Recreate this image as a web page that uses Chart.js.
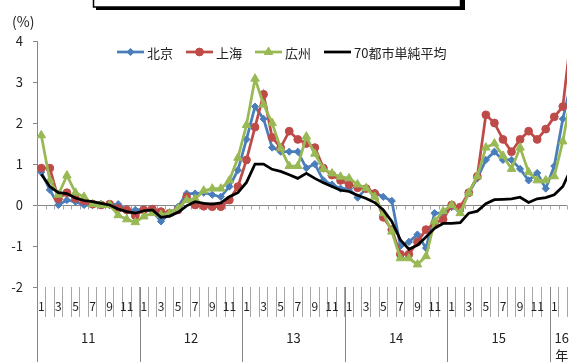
<!DOCTYPE html>
<html>
<head>
<meta charset="utf-8">
<script src="https://cdn.jsdelivr.net/npm/chart.js@4.4.1/dist/chart.umd.min.js"></script>
<style>
  html, body { margin: 0; padding: 0; background: #fff; overflow: hidden; }
  #wrap { width: 573px; height: 362px; }
</style>
</head>
<body>
<div id="wrap"><canvas id="chart" width="573" height="362"></canvas></div>
<script>
// month of each point, Jan 2011 .. Mar 2016 (March 2016 lies just past the right edge)
const months = [
  1, 2, 3, 4, 5, 6, 7, 8, 9, 10, 11, 12,
  1, 2, 3, 4, 5, 6, 7, 8, 9, 10, 11, 12,
  1, 2, 3, 4, 5, 6, 7, 8, 9, 10, 11, 12,
  1, 2, 3, 4, 5, 6, 7, 8, 9, 10, 11, 12,
  1, 2, 3, 4, 5, 6, 7, 8, 9, 10, 11, 12,
  1, 2, 3
];
// year group labels under the months (one entry per year, lines of text)
const yearLabels = [['11'], ['12'], ['13'], ['14'], ['15'], ['16', '年']];
// last month slot that fits in the picture
const lastVisible = 61;

const beijing = [
  0.80, 0.37, 0.00, 0.12, 0.08, 0.00, 0.00, 0.02, 0.00, 0.02, -0.15, -0.12,
  -0.10, -0.15, -0.40, -0.22, -0.04, 0.28, 0.28, 0.30, 0.25, 0.20, 0.45, 0.85,
  1.60, 2.40, 2.10, 1.40, 1.30, 1.30, 1.30, 0.90, 1.00, 0.60, 0.50, 0.40,
  0.40, 0.18, 0.40, 0.30, 0.20, 0.10, -1.00, -0.90, -0.72, -1.05, -0.20, -0.20,
  -0.05, -0.15, 0.30, 0.65, 1.10, 1.30, 1.10, 1.10, 0.88, 0.60, 0.78, 0.40,
  0.95, 2.10, 3.00
];
const shanghai = [
  0.90, 0.90, 0.15, 0.30, 0.16, 0.10, 0.02, 0.00, 0.02, -0.08, -0.12, -0.26,
  -0.12, -0.10, -0.16, -0.20, -0.12, 0.20, 0.00, -0.03, -0.04, -0.04, 0.12, 0.45,
  1.10, 1.90, 2.70, 1.65, 1.40, 1.80, 1.60, 1.50, 1.40, 0.90, 0.73, 0.60,
  0.50, 0.42, 0.40, 0.28, -0.30, -0.60, -1.20, -1.20, -0.90, -0.60, -0.45, -0.35,
  0.00, -0.05, 0.30, 0.70, 2.20, 2.00, 1.60, 1.30, 1.60, 1.80, 1.60, 1.85,
  2.15, 2.40, 4.20
];
const guangzhou = [
  1.70, 0.60, 0.25, 0.72, 0.30, 0.20, 0.02, 0.00, 0.00, -0.25, -0.35, -0.42,
  -0.28, -0.20, -0.24, -0.20, -0.08, 0.12, 0.15, 0.35, 0.40, 0.40, 0.60, 1.15,
  1.95, 3.08, 2.45, 2.00, 1.38, 0.95, 0.95, 1.67, 1.25, 0.88, 0.77, 0.69,
  0.65, 0.50, 0.41, 0.20, -0.20, -0.65, -1.30, -1.30, -1.45, -1.25, -0.40, -0.15,
  0.00, -0.20, 0.30, 0.70, 1.40, 1.50, 1.20, 0.88, 1.40, 0.80, 0.60, 0.60,
  0.70, 1.55, 2.70
];
const avg70 = [
  0.75, 0.45, 0.30, 0.28, 0.17, 0.11, 0.08, 0.04, 0.00, -0.10, -0.16, -0.20,
  -0.14, -0.12, -0.30, -0.27, -0.18, -0.02, 0.08, 0.04, 0.02, 0.05, 0.20, 0.30,
  0.55, 1.00, 1.00, 0.87, 0.82, 0.74, 0.65, 0.77, 0.65, 0.54, 0.45, 0.36,
  0.33, 0.24, 0.16, 0.06, -0.12, -0.40, -0.85, -1.08, -0.98, -0.78, -0.57, -0.45,
  -0.45, -0.43, -0.20, -0.15, 0.03, 0.13, 0.14, 0.15, 0.19, 0.06, 0.15, 0.18,
  0.25, 0.45, 0.90
];

const FONT = '"Noto Sans CJK JP", "Noto Sans", sans-serif';
const AXIS_GRAY = '#868686';

// series as {x: month index, y: value} for the hidden linear axis
const points = arr => arr.map((y, x) => ({ x, y }));

const decor = {
  id: 'decor',
  beforeDraw(chart) {
    // title frame, cut off at the top of the picture
    const ctx = chart.ctx;
    ctx.save();
    ctx.fillStyle = '#000';
    ctx.fillRect(96, -6, 369, 16);
    ctx.fillStyle = '#fff';
    ctx.fillRect(93, -6, 368, 13);
    ctx.strokeStyle = '#000';
    ctx.lineWidth = 1.5;
    ctx.strokeRect(93.5, -6, 367, 13);
    ctx.restore();
  },
  beforeDatasetsDraw(chart) {
    // horizontal axis crossing at 0 with small tick marks
    const { ctx, chartArea } = chart;
    const xs = chart.scales.x, ys = chart.scales.y;
    const y0 = Math.round(ys.getPixelForValue(0)) + 0.5;
    const slot = xs.getPixelForValue(1) - xs.getPixelForValue(0);
    ctx.save();
    ctx.strokeStyle = AXIS_GRAY;
    ctx.lineWidth = 1;
    ctx.beginPath();
    ctx.moveTo(chartArea.left, y0);
    ctx.lineTo(chartArea.right, y0);
    ctx.stroke();
    ctx.strokeStyle = '#a6a6a6';
    ctx.beginPath();
    for (let i = 0; i <= lastVisible + 1; i++) {
      const x = Math.round(xs.getPixelForValue(0) - slot / 2 + i * slot) + 0.5;
      ctx.moveTo(x, y0);
      ctx.lineTo(x, y0 + 4);
    }
    ctx.stroke();
    ctx.restore();
  },
  afterDraw(chart) {
    const { ctx, chartArea } = chart;
    const xs = chart.scales.x;
    const slot = xs.getPixelForValue(1) - xs.getPixelForValue(0);
    const edge = i => xs.getPixelForValue(0) - slot / 2 + i * slot;

    // year groups: separators and labels
    const starts = [];
    months.forEach((m, i) => { if (m === 1) starts.push(i); });
    ctx.save();
    ctx.strokeStyle = AXIS_GRAY;
    ctx.lineWidth = 1;
    ctx.beginPath();
    starts.forEach(s => {
      const x = Math.round(edge(s)) + 0.5;
      ctx.moveTo(x, chartArea.bottom);
      ctx.lineTo(x, chart.height);
    });
    ctx.stroke();
    ctx.fillStyle = '#222';
    ctx.font = '13px ' + FONT;
    ctx.textAlign = 'center';
    ctx.textBaseline = 'middle';
    starts.forEach((s, k) => {
      const end = k + 1 < starts.length ? starts[k + 1] : months.length;
      const lines = yearLabels[k];
      const w = Math.max(...lines.map(t => ctx.measureText(t).width));
      const x = Math.min((edge(s) + edge(end)) / 2, chart.width - w / 2 - 4);
      lines.forEach((t, j) => ctx.fillText(t, x, 338 + j * 17));
    });

    // unit
    ctx.textAlign = 'left';
    ctx.font = '14px ' + FONT;
    ctx.fillText('(%)', 12, 22);

    // legend
    ctx.font = '13px ' + FONT;
    let cx = 117;
    const ly = 52;
    chart.data.datasets.forEach(ds => {
      ctx.strokeStyle = ds.borderColor;
      ctx.fillStyle = ds.backgroundColor;
      ctx.lineWidth = ds.borderWidth;
      ctx.beginPath();
      ctx.moveTo(cx, ly);
      ctx.lineTo(cx + 27, ly);
      ctx.stroke();
      if (ds.pointRadius > 0) {
        ctx.lineWidth = 1;
        Chart.helpers.drawPoint(ctx, { pointStyle: ds.pointStyle, radius: ds.pointRadius, borderWidth: 1, rotation: 0 }, cx + 13.5, ly);
      }
      ctx.fillStyle = '#222';
      ctx.fillText(ds.label, cx + 30, ly + 1);
      cx += 30 + ctx.measureText(ds.label).width + 13;
    });
    ctx.restore();
  }
};

const ctx = document.getElementById('chart').getContext('2d');
new Chart(ctx, {
  type: 'line',
  data: {
    labels: months.map(String),
    datasets: [
      {
        label: '北京',
        data: points(beijing),
        xAxisID: 'xl',
        borderColor: '#4A7EBB',
        backgroundColor: '#4A7EBB',
        borderWidth: 2.75,
        pointStyle: 'rectRot',
        pointRadius: 3.6,
        pointBorderWidth: 1,
        order: 3,
      },
      {
        label: '上海',
        data: points(shanghai),
        xAxisID: 'xl',
        borderColor: '#BE4B48',
        backgroundColor: '#BE4B48',
        borderWidth: 2.75,
        pointStyle: 'circle',
        pointRadius: 3.9,
        pointBorderWidth: 1,
        order: 2,
      },
      {
        label: '広州',
        data: points(guangzhou),
        xAxisID: 'xl',
        borderColor: '#98B954',
        backgroundColor: '#98B954',
        borderWidth: 2.75,
        pointStyle: 'triangle',
        pointRadius: 4.9,
        pointBorderWidth: 1,
        order: 1,
      },
      {
        label: '70都市単純平均',
        data: points(avg70),
        xAxisID: 'xl',
        borderColor: '#000',
        backgroundColor: '#000',
        borderWidth: 2.75,
        pointRadius: 0,
        order: 0,
      },
    ],
  },
  options: {
    responsive: false,
    animation: false,
    layout: { padding: { top: 41, left: 0, right: 0, bottom: 0 } },
    plugins: {
      legend: { display: false },
      tooltip: { enabled: false },
    },
    scales: {
      // visible month axis (labels, tick marks)
      x: {
        type: 'category',
        offset: true,
        min: 0,
        max: lastVisible,
        grid: { offset: true, drawOnChartArea: false, drawTicks: true, tickLength: 30, color: '#a6a6a6' },
        border: { display: false },
        ticks: {
          autoSkip: false,
          maxRotation: 0,
          minRotation: 0,
          padding: -18,
          color: '#222',
          font: { family: FONT, size: 12 },
          callback: (v) => (months[v] % 2 === 1 ? String(months[v]) : ''),
        },
        afterFit: s => { s.height = 75; s.paddingLeft = 0; s.paddingRight = 0; },
      },
      // hidden linear twin of the month axis, so lines run on past the right edge
      xl: {
        type: 'linear',
        display: false,
        min: -0.5,
        max: lastVisible + 0.5,
      },
      y: {
        min: -2,
        max: 4,
        ticks: { stepSize: 1, padding: 10, color: '#222', font: { family: FONT, size: 13 } },
        grid: { drawOnChartArea: false, tickLength: 4, color: AXIS_GRAY },
        border: { color: AXIS_GRAY },
        afterFit: s => { s.width = 37; },
      },
    },
  },
  plugins: [decor],
});
</script>
</body>
</html>
